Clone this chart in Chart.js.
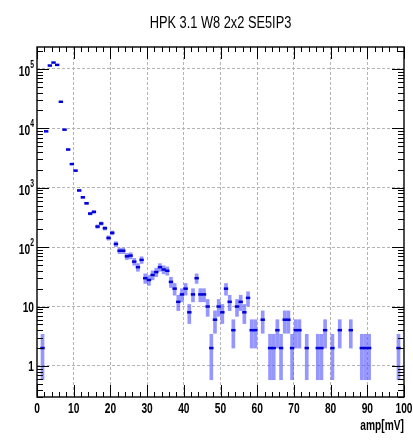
<!DOCTYPE html>
<html>
<head>
<meta charset="utf-8">
<script src="https://cdn.jsdelivr.net/npm/chart.js@4.4.1/dist/chart.umd.min.js"></script>
<style>
    html, body { margin: 0; padding: 0; background: #fff; }
    #wrap { width: 413px; height: 445px; }
</style>
</head>
<body>
<div id="wrap"><canvas id="ampChart" width="413" height="445"></canvas></div>
<script>

const chartTitle = "HPK 3.1 W8 2x2 SE5IP3";
const xTitle = "amp[mV]";

// bin centres in mV (1 mV bins, empty bins left out)
const binCenters = [
    1.5, 2.5, 3.5, 4.5, 5.5, 6.5, 7.5, 8.5, 9.5, 10.5,
    11.5, 12.5, 13.5, 14.5, 15.5, 16.5, 17.5, 18.5, 19.5, 20.5,
    21.5, 22.5, 23.5, 24.5, 25.5, 26.5, 27.5, 28.5, 29.5, 30.5,
    31.5, 32.5, 33.5, 34.5, 35.5, 36.5, 37.5, 38.5, 39.5, 40.5,
    41.5, 42.5, 43.5, 44.5, 45.5, 46.5, 47.5, 48.5, 49.5, 50.5,
    51.5, 52.5, 53.5, 54.5, 55.5, 56.5, 57.5, 58.5, 59.5, 61.5,
    63.5, 64.5, 65.5, 66.5, 67.5, 68.5, 69.5, 70.5, 71.5, 73.5,
    76.5, 77.5, 78.5, 80.5, 82.5, 85.5, 88.5, 89.5, 90.5, 98.5
];

// bin contents
const binCounts = [
    2, 8900, 114000, 128000, 117000, 28000, 9500, 4400, 2500, 1940,
    900, 690, 547, 367, 392, 222, 250, 208, 143, 174,
    113, 87, 87, 70, 72, 57, 46, 61, 30, 28,
    34, 38, 46, 42, 40, 26, 20, 12, 16, 20,
    8, 16, 30, 16, 16, 10, 2, 6, 10, 8,
    20, 12, 4, 10, 12, 8, 14, 4, 4, 6,
    2, 2, 4, 2, 6, 6, 2, 4, 4, 2,
    2, 2, 4, 2, 4, 4, 2, 2, 2, 2
];

const xTickValues = [0, 10, 20, 30, 40, 50, 60, 70, 80, 90, 100];
const xTickLabels = ["0", "10", "20", "30", "40", "50", "60", "70", "80", "90", "100"];
const yTickValues = [1, 10, 100, 1000, 10000, 100000];
const yTickBase = ["1", "10", "10", "10", "10", "10"];
const yTickExp = ["", "", "2", "3", "4", "5"];

const FONT = "'Liberation Sans', Arial, sans-serif";
const SQUEEZE = 0.68;

// poisson errors on each bin
const errorBars = binCenters.map((x, i) => {
    const e = Math.sqrt(binCounts[i]);
    return { x: x, y: [binCounts[i] - e, binCounts[i] + e] };
});
const markers = binCenters.map((x, i) => ({ x: x, y: binCounts[i] }));

function isDecade(v) {
    const l = Math.log10(v);
    return Math.abs(l - Math.round(l)) < 1e-6;
}

function squeezedText(ctx, text, x, y, font, align, sx) {
    ctx.save();
    ctx.font = font;
    ctx.textAlign = align;
    ctx.textBaseline = "alphabetic";
    ctx.translate(x, y);
    ctx.scale(sx || SQUEEZE, 1);
    ctx.fillText(text, 0, 0);
    ctx.restore();
}

// ROOT style frame: ticks on the inside of all four sides, labels outside
const rootFrame = {
    id: "rootFrame",
    afterDraw(chart) {
        const ctx = chart.ctx;
        const a = chart.chartArea;
        const xs = chart.scales.x;
        const ys = chart.scales.y;

        ctx.save();
        ctx.strokeStyle = "#000";
        ctx.lineWidth = 1;

        // x ticks every 2 mV, long ones every 10
        for (let v = 0; v <= 100; v += 2) {
            const px = Math.round(xs.getPixelForValue(v)) + 0.5;
            const len = v % 10 === 0 ? 12 : 5;
            ctx.beginPath();
            ctx.moveTo(px, a.bottom);
            ctx.lineTo(px, a.bottom - len);
            ctx.moveTo(px, a.top);
            ctx.lineTo(px, a.top + len);
            ctx.stroke();
        }

        // y ticks: decades long, 2..9 short
        for (let d = -1; d <= 5; d++) {
            for (let m = 1; m <= 9; m++) {
                const v = m * Math.pow(10, d);
                if (v < ys.min || v > ys.max) continue;
                const py = Math.round(ys.getPixelForValue(v)) + 0.5;
                const len = m === 1 ? 12 : 6;
                ctx.beginPath();
                ctx.moveTo(a.left, py);
                ctx.lineTo(a.left + len, py);
                ctx.moveTo(a.right, py);
                ctx.lineTo(a.right - len, py);
                ctx.stroke();
            }
        }

        ctx.lineWidth = 1.4;
        ctx.strokeRect(a.left, a.top, a.right - a.left, a.bottom - a.top);

        ctx.fillStyle = "#000";

        xTickValues.forEach((v, i) => {
            squeezedText(ctx, xTickLabels[i], xs.getPixelForValue(v), a.bottom + 16,
                "bold 15px " + FONT, "center");
        });

        yTickValues.forEach((v, i) => {
            const py = ys.getPixelForValue(v);
            let right = 34;
            if (yTickExp[i]) {
                squeezedText(ctx, yTickExp[i], right, py - 1, "bold 10px " + FONT, "right");
                ctx.font = "bold 10px " + FONT;
                right -= ctx.measureText(yTickExp[i]).width * SQUEEZE;
                squeezedText(ctx, yTickBase[i], right, py + 7, "bold 15px " + FONT, "right");
            } else {
                squeezedText(ctx, yTickBase[i], right, py + 5, "bold 15px " + FONT, "right");
            }
        });

        squeezedText(ctx, xTitle, a.right, a.bottom + 33, "bold 15px " + FONT, "right");

        squeezedText(ctx, chartTitle, (a.left + a.right) / 2, 28, "16px " + FONT, "center", 0.8);

        ctx.restore();
    }
};

function xGridColor(c) {
    if (!c.tick) return "rgba(0,0,0,0)";
    return (c.tick.value > 0 && c.tick.value < 100) ? "#b4b4b4" : "rgba(0,0,0,0)";
}

function yGridColor(c) {
    if (!c.tick) return "rgba(0,0,0,0)";
    return isDecade(c.tick.value) ? "#b4b4b4" : "rgba(0,0,0,0)";
}

new Chart(document.getElementById("ampChart"), {
    type: "scatter",
    data: {
        datasets: [
            {
                type: "bar",
                data: errorBars,
                barThickness: 3,
                grouped: false,
                backgroundColor: "rgba(80,80,255,0.6)",
                borderWidth: 0,
                order: 2
            },
            {
                type: "scatter",
                data: markers,
                pointStyle: "line",
                pointRadius: 2.2,
                borderWidth: 2.5,
                borderColor: "#0000d8",
                order: 1
            }
        ]
    },
    options: {
        responsive: false,
        animation: false,
        layout: { padding: { top: 47, right: 9, left: 0, bottom: 0 } },
        plugins: {
            legend: { display: false },
            tooltip: { enabled: false }
        },
        scales: {
            x: {
                type: "linear",
                min: 0,
                max: 100,
                offset: false,
                afterFit(scale) { scale.height = 48; },
                ticks: { display: false, stepSize: 10 },
                border: { display: false, dash: [3, 2] },
                grid: { drawTicks: false, offset: false, color: xGridColor }
            },
            y: {
                type: "logarithmic",
                min: 0.31,
                max: 234000,
                afterFit(scale) { scale.width = 37; },
                ticks: { display: false },
                border: { display: false, dash: [3, 2] },
                grid: { drawTicks: false, color: yGridColor }
            }
        }
    },
    plugins: [rootFrame]
});

</script>
</body>
</html>
